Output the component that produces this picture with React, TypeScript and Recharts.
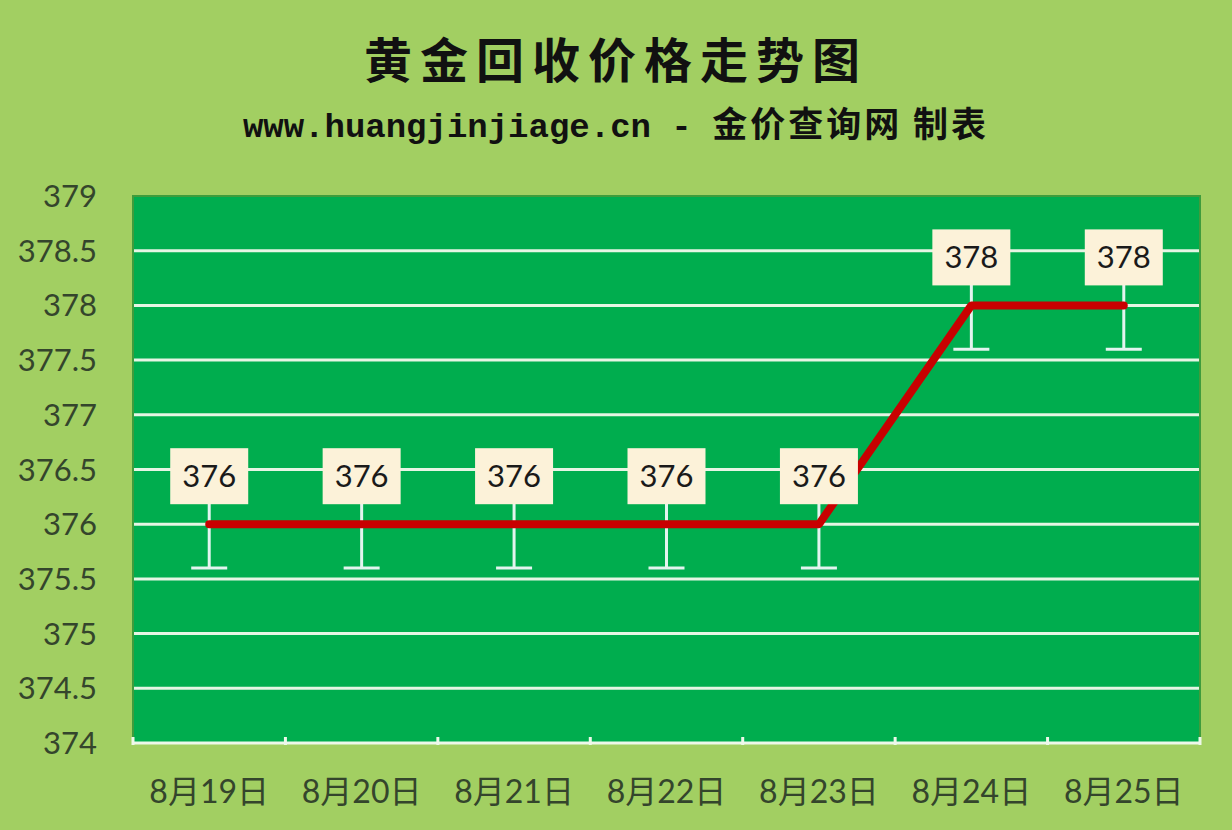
import React from 'react';
import { LineChart, Line, XAxis, YAxis, CartesianGrid, ErrorBar, LabelList, ReferenceArea } from 'recharts';

const dates = ['8月19日', '8月20日', '8月21日', '8月22日', '8月23日', '8月24日', '8月25日'];
const prices = [376, 376, 376, 376, 376, 378, 378];
const errors = [0.4, 0.4, 0.4, 0.4, 0.4, 0.4, 0.4];
const yTicks = [374, 374.5, 375, 375.5, 376, 376.5, 377, 377.5, 378, 378.5, 379];
const gridValues = [374.5, 375, 375.5, 376, 376.5, 377, 377.5, 378, 378.5];

const chartData = dates.map((d, i) => ({ date: d, price: prices[i], err: errors[i] }));

const PLOT_W = 1067;
const BAND = PLOT_W / dates.length;

// 标签：米色方框 + 数字
const PriceLabel = (props: any) => {
  const { x, y, value } = props;
  const w = 78;
  const h = 56;
  const cy = y - 48;
  return (
    <g>
      <rect x={x - w / 2} y={cy - h / 2} width={w} height={h} fill="#fcf2d9" />
      <text x={x} y={cy + 11} textAnchor="middle" fontSize={31} fill="#1a1a1a" fontFamily="Lato, sans-serif">
        {value}
      </text>
    </g>
  );
};

// X轴刻度：刻度线画在类别之间
const DateTick = (props: any) => {
  const { x, y, payload, index } = props;
  return (
    <g>
      <line x1={x - BAND / 2} y1={y - 8} x2={x - BAND / 2} y2={y} stroke="#eef8ea" strokeWidth={3} />
      {index === dates.length - 1 && (
        <line x1={x + BAND / 2} y1={y - 8} x2={x + BAND / 2} y2={y} stroke="#eef8ea" strokeWidth={3} />
      )}
      <text x={x} y={y + 58} textAnchor="middle" fontSize={32} fill="#34452c" fontFamily="Lato, 'Noto Sans CJK SC', sans-serif">
        {payload.value}
      </text>
    </g>
  );
};

const App: React.FC = () => {
  return (
    <div style={{ position: 'absolute', left: 0, top: 0, width: 1232, height: 830, background: '#a2cf62', overflow: 'hidden' }}>
      <div
        style={{
          position: 'absolute', left: 0, width: 1232, top: 24, textAlign: 'center',
          fontSize: 48, fontWeight: 700, letterSpacing: 8, color: '#111',
          fontFamily: "'Noto Sans CJK SC', sans-serif", lineHeight: '66px',
        }}
      >
        黄金回收价格走势图
      </div>
      <div
        style={{
          position: 'absolute', left: 0, width: 1232, top: 98, textAlign: 'center',
          fontWeight: 700, color: '#111', lineHeight: '48px', whiteSpace: 'nowrap',
        }}
      >
        <span style={{ fontSize: 34, fontFamily: "'Liberation Mono', monospace" }}>www.huangjinjiage.cn - </span>
        <span style={{ fontSize: 35, letterSpacing: 3, fontFamily: "'Noto Sans CJK SC', sans-serif" }}>金价查询网 制表</span>
      </div>
      <div style={{ position: 'absolute', left: 0, top: 0 }}>
        <LineChart width={1232} height={830} data={chartData} margin={{ top: 196, right: 32, left: 0, bottom: 0 }}>
          <CartesianGrid
            vertical={false}
            horizontalValues={gridValues}
            stroke="#e6f5e4"
            strokeWidth={3}
            strokeOpacity={1}
            fill="#00ad4e"
            fillOpacity={1}
          />
          <ReferenceArea y1={374} y2={379} fill="none" stroke="#3f9c3c" strokeWidth={2} ifOverflow="visible" />
          <XAxis
            dataKey="date"
            scale="band"
            height={87}
            axisLine={{ stroke: '#eef8ea', strokeWidth: 3 }}
            tickLine={false}
            tickSize={0}
            tick={<DateTick />}
            interval={0}
          />
          <YAxis
            domain={[374, 379]}
            ticks={yTicks}
            width={133}
            axisLine={false}
            tickLine={false}
            tickSize={0}
            tickMargin={36}
            interval={0}
            tick={{ fontSize: 31, fill: '#34452c', fontFamily: 'Lato, sans-serif' }}
          />
          <Line
            dataKey="price"
            stroke="none"
            dot={false}
            activeDot={false}
            isAnimationActive={false}
          >
            <ErrorBar dataKey="err" direction="y" width={18} stroke="#e3f4ef" strokeWidth={3} />
          </Line>
          <Line
            type="linear"
            dataKey="price"
            stroke="#c80000"
            strokeWidth={8}
            strokeLinecap="round"
            strokeLinejoin="round"
            dot={false}
            activeDot={false}
            isAnimationActive={false}
          >
            <LabelList dataKey="price" content={<PriceLabel />} />
          </Line>
        </LineChart>
      </div>
    </div>
  );
};

export default App;
